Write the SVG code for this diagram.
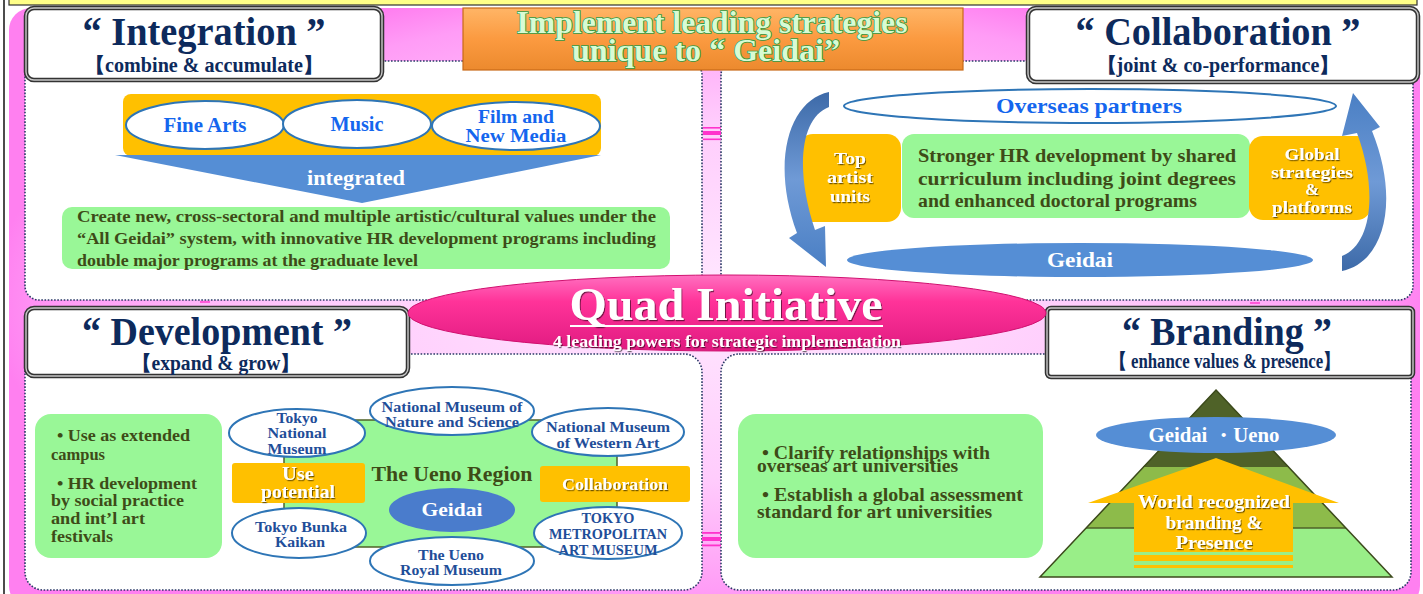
<svg xmlns="http://www.w3.org/2000/svg" width="1423" height="594" viewBox="0 0 1423 594">
<defs>
  <radialGradient id="pinkbg" gradientUnits="userSpaceOnUse" cx="711" cy="300" r="720" gradientTransform="translate(711 300) scale(1 0.45) translate(-711 -300)">
    <stop offset="0" stop-color="#ffe8ff"/>
    <stop offset="0.55" stop-color="#ffccfc"/>
    <stop offset="0.9" stop-color="#ff9cf6"/>
    <stop offset="1" stop-color="#ff80f0"/>
  </radialGradient>
  <linearGradient id="banner" x1="0" y1="0" x2="0" y2="1">
    <stop offset="0" stop-color="#ffb566"/>
    <stop offset="0.5" stop-color="#fb9a40"/>
    <stop offset="1" stop-color="#ec8a2e"/>
  </linearGradient>
  <linearGradient id="quad" x1="0" y1="0" x2="0" y2="1">
    <stop offset="0" stop-color="#ff70c0"/>
    <stop offset="0.35" stop-color="#ff3399"/>
    <stop offset="1" stop-color="#e01a80"/>
  </linearGradient>
  <linearGradient id="arrowL" x1="0" y1="0" x2="0" y2="1">
    <stop offset="0" stop-color="#3d6aa8"/>
    <stop offset="0.5" stop-color="#6f9ad6"/>
    <stop offset="1" stop-color="#4a7fc4"/>
  </linearGradient>
  <linearGradient id="arrowR" x1="0" y1="1" x2="0" y2="0">
    <stop offset="0" stop-color="#3d6aa8"/>
    <stop offset="0.5" stop-color="#6f9ad6"/>
    <stop offset="1" stop-color="#4a7fc4"/>
  </linearGradient>
  <filter id="sh" x="-10%" y="-20%" width="120%" height="140%">
    <feDropShadow dx="1" dy="1.2" stdDeviation="0.5" flood-color="#000" flood-opacity="0.55"/>
  </filter>
  <style>
    .t{font-family:"Liberation Serif","Times New Roman",serif;font-weight:bold}
    .title{fill:#0d2a5c;font-size:40px}
    .sub{fill:#0d2a5c;font-size:20px}
    .olive{fill:#3e4b17}
    .blue{fill:#1466ee}
    .navy{fill:#1f4e99}
    .white{fill:#ffffff}
    .panel{fill:#ffffff;stroke:#2b3a67;stroke-width:1.6;stroke-dasharray:1.6 1.6}
    .boxo{fill:#ffffff;stroke:#333333;stroke-width:4.5}
    .boxi{fill:none;stroke:#c8c8c8;stroke-width:1.4}
    .green{fill:#99f797}
    .orange{fill:#ffc000}
    .bell{fill:#ffffff;stroke:#2e75b6;stroke-width:2}
    .fell{fill:#558ed5}
    .mark{fill:#ff33cc}
  </style>
</defs>

<!-- background -->
<g id="background">
  <rect x="0" y="0" width="1423" height="594" fill="#ffffff"/>
  <line x1="4" y1="0" x2="4" y2="594" stroke="#111" stroke-width="1.5"/>
  <rect x="9" y="8" width="1411" height="600" rx="22" fill="url(#pinkbg)"/>
  <rect x="9" y="-3" width="1408" height="8" fill="#ffff88" stroke="#333" stroke-width="1.2"/>
</g>

<!-- panels -->
<g id="panels">
  <rect class="panel" x="25" y="61" width="677" height="239" rx="14"/>
  <rect class="panel" x="721" y="61" width="692" height="239" rx="14"/>
  <rect class="panel" x="25" y="354" width="677" height="236" rx="18"/>
  <rect class="panel" x="721" y="354" width="690" height="236" rx="18"/>
  <rect class="mark" x="703" y="127" width="18" height="1.6"/>
  <rect class="mark" x="703" y="131" width="18" height="4"/>
  <rect class="mark" x="703" y="138.5" width="18" height="1.6"/>
  <rect class="mark" x="702" y="532" width="19" height="1.8"/>
  <rect class="mark" x="702" y="537" width="19" height="4"/>
  <rect class="mark" x="702" y="544.5" width="19" height="1.8"/>
  <rect class="mark" x="200" y="301" width="10" height="2" opacity="0.7"/>
  <rect class="mark" x="1250" y="302" width="10" height="2" opacity="0.7"/>
</g>

<!-- banner -->
<g id="banner-node">
  <rect x="463" y="8" width="500" height="62" fill="url(#banner)" stroke="#c86a18" stroke-width="1.2"/>
  <g class="t" font-size="31" fill="#d8fbd4" stroke="#2f9a46" stroke-width="1.6" paint-order="stroke" text-anchor="middle">
    <text x="712" y="33" textLength="391" lengthAdjust="spacingAndGlyphs">Implement leading strategies</text>
    <text x="706" y="61" textLength="268" lengthAdjust="spacingAndGlyphs">unique to “ Geidai”</text>
  </g>
</g>

<!-- Integration -->
<g id="integration-title">
  <rect class="boxo" x="26" y="8" width="356" height="72" rx="8"/>
  <rect class="boxi" x="26" y="8" width="356" height="72" rx="8"/>
  <text class="t title" x="204" y="45" text-anchor="middle" textLength="243" lengthAdjust="spacingAndGlyphs">“ Integration ”</text>
  <text class="t sub" x="204" y="72" text-anchor="middle" textLength="238" lengthAdjust="spacingAndGlyphs">【combine &amp; accumulate】</text>
</g>
<g id="integration-fields">
  <rect class="orange" x="123" y="94" width="478" height="62" rx="8"/>
  <ellipse class="bell" cx="205" cy="125" rx="79" ry="24"/>
  <ellipse class="bell" cx="357" cy="124" rx="74" ry="24"/>
  <ellipse class="bell" cx="516" cy="126" rx="84" ry="24"/>
  <g class="t blue" text-anchor="middle" font-size="21">
    <text x="205" y="132" textLength="83" lengthAdjust="spacingAndGlyphs">Fine Arts</text>
    <text x="357" y="131" textLength="53" lengthAdjust="spacingAndGlyphs">Music</text>
    <text x="516" y="123" font-size="19" textLength="76" lengthAdjust="spacingAndGlyphs">Film and</text>
    <text x="516" y="142" font-size="19" textLength="101" lengthAdjust="spacingAndGlyphs">New Media</text>
  </g>
</g>
<g id="integration-arrow">
  <polygon points="115,155 601,155 362,203" fill="#558ed5"/>
  <text class="t white" x="356" y="185" font-size="21" text-anchor="middle" textLength="98" lengthAdjust="spacingAndGlyphs">integrated</text>
</g>
<g id="integration-text">
  <rect class="green" x="62" y="207" width="608" height="62" rx="10"/>
  <g class="t olive" font-size="17">
    <text x="77" y="222" textLength="579" lengthAdjust="spacingAndGlyphs">Create new, cross-sectoral and multiple artistic/cultural values under the</text>
    <text x="77" y="244" textLength="579" lengthAdjust="spacingAndGlyphs">“All Geidai” system, with innovative HR development programs including</text>
    <text x="77" y="266" textLength="341" lengthAdjust="spacingAndGlyphs">double major programs at the graduate level</text>
  </g>
</g>

<!-- Collaboration -->
<g id="collaboration-title">
  <rect class="boxo" x="1028" y="8" width="390" height="74" rx="8"/>
  <rect class="boxi" x="1028" y="8" width="390" height="74" rx="8"/>
  <text class="t title" x="1218" y="45" text-anchor="middle" textLength="285" lengthAdjust="spacingAndGlyphs">“ Collaboration ”</text>
  <text class="t sub" x="1218" y="72" text-anchor="middle" textLength="243" lengthAdjust="spacingAndGlyphs">【joint &amp; co-performance】</text>
</g>
<g id="overseas-partners">
  <ellipse cx="1090" cy="106" rx="246" ry="17" fill="#ffffff" stroke="#2e75b6" stroke-width="2"/>
  <text class="t blue" x="1089" y="113" font-size="22" text-anchor="middle" textLength="186" lengthAdjust="spacingAndGlyphs">Overseas partners</text>
</g>
<g id="top-artist-units">
  <rect class="orange" x="799" y="134" width="102" height="88" rx="14"/>
  <g class="t white" font-size="17" text-anchor="middle" filter="url(#sh)">
    <text x="850" y="164" textLength="32" lengthAdjust="spacingAndGlyphs">Top</text>
    <text x="850" y="183" textLength="46" lengthAdjust="spacingAndGlyphs">artist</text>
    <text x="850" y="202" textLength="40" lengthAdjust="spacingAndGlyphs">units</text>
  </g>
</g>
<g id="shared-curriculum">
  <rect class="green" x="902" y="134" width="348" height="84" rx="12"/>
  <g class="t olive" font-size="19">
    <text x="918" y="162" textLength="318" lengthAdjust="spacingAndGlyphs">Stronger HR development by shared</text>
    <text x="918" y="185" textLength="318" lengthAdjust="spacingAndGlyphs">curriculum including joint degrees</text>
    <text x="918" y="207" textLength="279" lengthAdjust="spacingAndGlyphs">and enhanced doctoral programs</text>
  </g>
</g>
<g id="global-strategies">
  <rect class="orange" x="1249" y="136" width="122" height="84" rx="14"/>
  <g class="t white" font-size="17" text-anchor="middle" filter="url(#sh)">
    <text x="1312" y="160" textLength="55" lengthAdjust="spacingAndGlyphs">Global</text>
    <text x="1312" y="178" textLength="82" lengthAdjust="spacingAndGlyphs">strategies</text>
    <text x="1312" y="195">&amp;</text>
    <text x="1312" y="213" textLength="80" lengthAdjust="spacingAndGlyphs">platforms</text>
  </g>
</g>
<g id="geidai-collab">
  <ellipse class="fell" cx="1080" cy="260" rx="233" ry="17"/>
  <text class="t white" x="1080" y="267" font-size="21" text-anchor="middle" textLength="66" lengthAdjust="spacingAndGlyphs">Geidai</text>
</g>

<!-- Development -->
<g id="development-title">
  <rect class="boxo" x="26" y="308" width="382" height="68" rx="8"/>
  <rect class="boxi" x="26" y="308" width="382" height="68" rx="8"/>
  <text class="t title" x="217" y="345" text-anchor="middle" textLength="270" lengthAdjust="spacingAndGlyphs">“ Development ”</text>
  <text class="t sub" x="216" y="370" text-anchor="middle" textLength="168" lengthAdjust="spacingAndGlyphs">【expand &amp; grow】</text>
</g>
<g id="development-text">
  <rect class="green" x="35" y="414" width="187" height="144" rx="16"/>
  <g class="t olive" font-size="17">
    <text x="57" y="441" textLength="133" lengthAdjust="spacingAndGlyphs">• Use as extended</text>
    <text x="51" y="460" textLength="54" lengthAdjust="spacingAndGlyphs">campus</text>
    <text x="57" y="489" textLength="140" lengthAdjust="spacingAndGlyphs">• HR development</text>
    <text x="51" y="506" textLength="133" lengthAdjust="spacingAndGlyphs">by social practice</text>
    <text x="51" y="524" textLength="94" lengthAdjust="spacingAndGlyphs">and int’l art</text>
    <text x="51" y="542" textLength="62" lengthAdjust="spacingAndGlyphs">festivals</text>
  </g>
</g>
<g id="ueno-region">
  <polygon points="284,450 330,420 575,420 617,450 617,515 575,547 330,547 284,515" fill="#99f797" stroke="#4f6228" stroke-width="1.5"/>
  <text class="t olive" x="452" y="481" font-size="21" text-anchor="middle" textLength="161" lengthAdjust="spacingAndGlyphs">The Ueno Region</text>
</g>
<g id="geidai-ueno">
  <ellipse cx="452" cy="510" rx="63" ry="22" fill="#4a7ccc"/>
  <text class="t white" x="452" y="516" font-size="19" text-anchor="middle" textLength="61" lengthAdjust="spacingAndGlyphs">Geidai</text>
</g>
<g id="use-potential">
  <rect class="orange" x="232" y="463" width="133" height="40" rx="3"/>
  <g class="t white" font-size="18" text-anchor="middle" filter="url(#sh)">
    <text x="298" y="480" textLength="32" lengthAdjust="spacingAndGlyphs">Use</text>
    <text x="298" y="498" textLength="74" lengthAdjust="spacingAndGlyphs">potential</text>
  </g>
</g>
<g id="collaboration-ueno">
  <rect class="orange" x="540" y="466" width="150" height="36" rx="3"/>
  <text class="t white" x="615" y="490" font-size="16" text-anchor="middle" textLength="106" lengthAdjust="spacingAndGlyphs" filter="url(#sh)">Collaboration</text>
</g>
<g id="tokyo-national-museum">
  <ellipse class="bell" cx="297" cy="433" rx="68" ry="24"/>
  <g class="t navy" font-size="15" text-anchor="middle">
    <text x="297" y="423" textLength="41" lengthAdjust="spacingAndGlyphs">Tokyo</text>
    <text x="297" y="438" textLength="59" lengthAdjust="spacingAndGlyphs">National</text>
    <text x="297" y="454" textLength="59" lengthAdjust="spacingAndGlyphs">Museum</text>
  </g>
</g>
<g id="nature-science">
  <ellipse class="bell" cx="452" cy="411" rx="82" ry="24"/>
  <g class="t navy" font-size="15" text-anchor="middle">
    <text x="452" y="412" textLength="141" lengthAdjust="spacingAndGlyphs">National Museum of</text>
    <text x="452" y="427" textLength="134" lengthAdjust="spacingAndGlyphs">Nature and Science</text>
  </g>
</g>
<g id="western-art">
  <ellipse class="bell" cx="608" cy="432" rx="76" ry="24"/>
  <g class="t navy" font-size="15" text-anchor="middle">
    <text x="608" y="432" textLength="124" lengthAdjust="spacingAndGlyphs">National Museum</text>
    <text x="608" y="448" textLength="103" lengthAdjust="spacingAndGlyphs">of Western Art</text>
  </g>
</g>
<g id="tokyo-bunka-kaikan">
  <ellipse class="bell" cx="299" cy="533" rx="67" ry="25"/>
  <g class="t navy" font-size="15" text-anchor="middle">
    <text x="301" y="532" textLength="92" lengthAdjust="spacingAndGlyphs">Tokyo Bunka</text>
    <text x="300" y="547" textLength="50" lengthAdjust="spacingAndGlyphs">Kaikan</text>
  </g>
</g>
<g id="ueno-royal-museum">
  <ellipse class="bell" cx="452" cy="561" rx="82" ry="24"/>
  <g class="t navy" font-size="15" text-anchor="middle">
    <text x="451" y="560" textLength="66" lengthAdjust="spacingAndGlyphs">The Ueno</text>
    <text x="451" y="575" textLength="102" lengthAdjust="spacingAndGlyphs">Royal Museum</text>
  </g>
</g>
<g id="metropolitan-art-museum">
  <ellipse class="bell" cx="608" cy="533" rx="74" ry="26"/>
  <g class="t navy" font-size="15" text-anchor="middle">
    <text x="608" y="523" textLength="53" lengthAdjust="spacingAndGlyphs">TOKYO</text>
    <text x="608" y="539" textLength="118" lengthAdjust="spacingAndGlyphs">METROPOLITAN</text>
    <text x="608" y="555" textLength="99" lengthAdjust="spacingAndGlyphs">ART MUSEUM</text>
  </g>
</g>

<!-- Branding -->
<g id="branding-title">
  <rect class="boxo" x="1047" y="308" width="366" height="69" rx="4"/>
  <rect class="boxi" x="1047" y="308" width="366" height="69" rx="4"/>
  <text class="t title" x="1227" y="345" text-anchor="middle" textLength="210" lengthAdjust="spacingAndGlyphs">“ Branding ”</text>
  <text class="t sub" x="1225" y="368" font-size="18" text-anchor="middle" textLength="230" lengthAdjust="spacingAndGlyphs">【 enhance values &amp; presence】</text>
</g>
<g id="branding-text">
  <rect class="green" x="738" y="414" width="305" height="144" rx="18"/>
  <g class="t olive" font-size="19">
    <text x="762" y="459" textLength="228" lengthAdjust="spacingAndGlyphs">• Clarify relationships with</text>
    <text x="757" y="472" textLength="201" lengthAdjust="spacingAndGlyphs">overseas art universities</text>
    <text x="762" y="501" textLength="261" lengthAdjust="spacingAndGlyphs">• Establish a global assessment</text>
    <text x="757" y="518" textLength="235" lengthAdjust="spacingAndGlyphs">standard for art universities</text>
  </g>
</g>
<g id="pyramid">
  <polygon points="1216,390 1392,577 1040,577" fill="#99ee88"/>
  <polygon points="1216,390 1346,528 1086,528" fill="#8dbb4a"/>
  <polygon points="1216,390 1289,467 1143,467" fill="#4f6228"/>
  <line x1="1086" y1="528" x2="1346" y2="528" stroke="#4f6228" stroke-width="1.5"/>
  <polygon points="1216,390 1392,577 1040,577" fill="none" stroke="#3c4a1c" stroke-width="1.5"/>
</g>
<g id="geidai-ueno-brand">
  <ellipse class="fell" cx="1216" cy="435" rx="120" ry="18"/>
  <text class="t white" x="1214" y="442" font-size="20" text-anchor="middle" textLength="131" lengthAdjust="spacingAndGlyphs">Geidai ・Ueno</text>
</g>
<g id="world-branding">
  <polygon points="1216,458 1339,503 1293,503 1293,552 1134,552 1134,503 1088,503" fill="#ffc000"/>
  <rect x="1134" y="555" width="159" height="6" fill="#ffc000"/>
  <rect x="1134" y="565" width="159" height="3" fill="#ffc000"/>
  <g class="t white" font-size="18" text-anchor="middle" filter="url(#sh)">
    <text x="1214" y="508" textLength="152" lengthAdjust="spacingAndGlyphs">World recognized</text>
    <text x="1214" y="529" textLength="97" lengthAdjust="spacingAndGlyphs">branding &amp;</text>
    <text x="1214" y="549" textLength="77" lengthAdjust="spacingAndGlyphs">Presence</text>
  </g>
</g>

<!-- Quad Initiative -->
<g id="quad-initiative">
  <ellipse cx="727" cy="313" rx="319" ry="38" fill="url(#quad)" stroke="#d0106f" stroke-width="1"/>
  <text class="t white" x="726" y="320" font-size="46" text-anchor="middle" textLength="313" lengthAdjust="spacingAndGlyphs" filter="url(#sh)">Quad Initiative</text>
  <rect x="570" y="325" width="313" height="2" fill="#ffffff"/>
  <text class="t white" x="727" y="347" font-size="16" text-anchor="middle" textLength="348" lengthAdjust="spacingAndGlyphs" filter="url(#sh)">4 leading powers for strategic implementation</text>
</g>

<!-- connectors -->
<g id="connectors">
  <path d="M 829 92 C 790 100, 770 160, 797 233 L 789 238 L 826 267 L 825 226 L 815 230 C 795 170, 800 118, 829 107 Z" fill="url(#arrowL)"/>
  <path d="M 1342 271 C 1385 262, 1400 200, 1372 131 L 1380 127 L 1353 93 L 1342 136 L 1357 133 C 1378 190, 1372 244, 1342 256 Z" fill="url(#arrowR)"/>
</g>
</svg>
